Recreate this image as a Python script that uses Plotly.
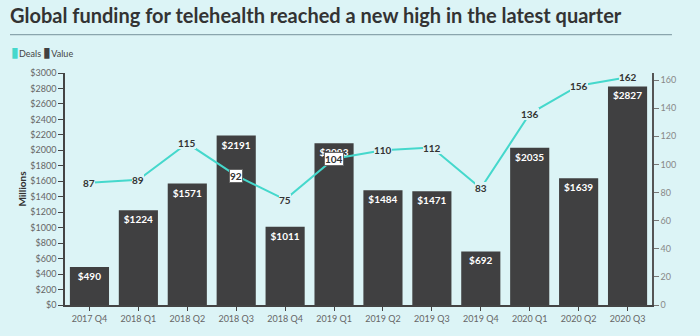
import plotly.graph_objects as go

quarters = ["2017 Q4", "2018 Q1", "2018 Q2", "2018 Q3", "2018 Q4", "2019 Q1", "2019 Q2",
            "2019 Q3", "2019 Q4", "2020 Q1", "2020 Q2", "2020 Q3"]
value = [490, 1224, 1571, 2191, 1011, 2093, 1484, 1471, 692, 2035, 1639, 2827]
deals = [87, 89, 115, 92, 75, 104, 110, 112, 83, 136, 156, 162]
left_ticks = list(range(0, 3001, 200))
right_ticks = list(range(0, 161, 20))

BG = "#dcf4f6"
TEAL = "#45d8cc"
DARK = "#404041"
FONT = "Lato"

fig = go.Figure()
fig.add_trace(go.Bar(
    x=quarters, y=value, marker=dict(color=DARK, line=dict(width=0)), width=0.8,
    text=["$" + str(v) for v in value], textposition="inside", insidetextanchor="end",
    textfont=dict(color="white", size=10, family=FONT, weight="bold"),
    showlegend=False, hoverinfo="skip", cliponaxis=False, name="Value"))
fig.add_trace(go.Scatter(
    x=quarters, y=deals, yaxis="y2", mode="lines", line=dict(color=TEAL, width=2),
    showlegend=False, hoverinfo="skip", name="Deals"))

over_bar = {"2018 Q3", "2019 Q1"}
for q, d in zip(quarters, deals):
    fig.add_annotation(x=q, y=d, yref="y2", text="<b>%d</b>" % d, showarrow=False,
                       font=dict(size=10, color="#333", family=FONT),
                       bgcolor="white" if q in over_bar else BG,
                       bordercolor="#666" if q in over_bar else BG, borderwidth=1 if q in over_bar else 0,
                       borderpad=0)

# compact legend
fig.add_annotation(xref="paper", yref="paper", x=-0.0955, xanchor="left", y=1.094, yanchor="middle",
                   showarrow=False,
                   text=("<span style='color:%s;font-size:14px'>▮</span>Deals "
                         "<span style='color:%s;font-size:14px'>▮</span>Value" % (TEAL, DARK)),
                   font=dict(size=9, color="#444", family=FONT))

fig.add_shape(type="line", xref="paper", yref="paper", x0=-0.0937, x1=1.034, y0=1.165, y1=1.165,
              line=dict(color="#8aa5ad", width=1.2))

axis_font = dict(size=9, color="#666", family=FONT)
fig.update_layout(
    width=700, height=336, paper_bgcolor=BG, plot_bgcolor=BG,
    margin=dict(l=65, r=48, t=73, b=26),
    font=dict(family=FONT),
    showlegend=False,
    title=dict(text="<b>Global funding for telehealth reached a new high in the latest quarter</b>",
               x=0.0143, xanchor="left", y=0.952, yanchor="middle", yref="container",
               font=dict(size=20, color="#333", family=FONT)),
    bargap=0.2,
    xaxis=dict(showline=True, linecolor="#444", linewidth=1.5, ticks="outside", ticklen=4,
               tickcolor="#444", tickfont=axis_font, showgrid=False),
    yaxis=dict(range=[0, 3000], tickvals=left_ticks, ticktext=["$" + str(t) for t in left_ticks],
               showline=True, linecolor="#444", linewidth=1.5, ticks="outside", ticklen=5,
               tickcolor="#444", tickfont=axis_font, showgrid=False, zeroline=False,
               title=dict(text="<b>Millions</b>", font=dict(size=10, color="#333", family=FONT), standoff=2)),
    yaxis2=dict(range=[0, 165], tickvals=right_ticks, overlaying="y", side="right",
                showline=True, linecolor="#555", linewidth=1.5, ticks="outside", ticklen=5,
                tickcolor="#777", tickfont=dict(size=9, color="#888", family=FONT),
                showgrid=False, zeroline=False),
)
fig.write_html("out.html")
